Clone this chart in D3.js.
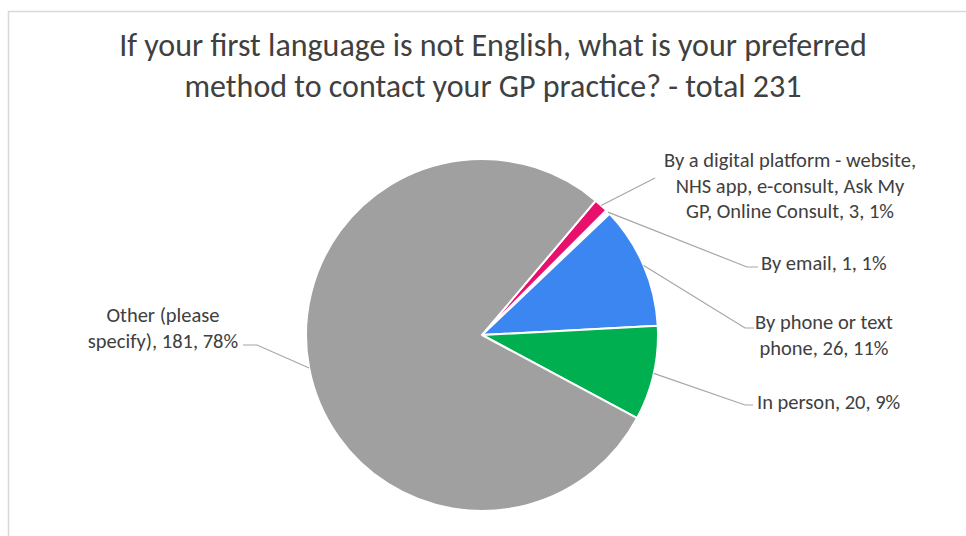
<!DOCTYPE html>
<html>
<head>
<meta charset="utf-8">
<script src="https://cdn.jsdelivr.net/npm/d3@7"></script>
<style>
  html, body { margin: 0; padding: 0; background: #fff; }
  svg { display: block; }
  text { font-family: Carlito, Calibri, Lato, "Open Sans", sans-serif; }
</style>
</head>
<body>
<svg id="chart" width="966" height="536"></svg>
<script>
// ---- Data ----
const categories = [
  "By a digital platform - website, NHS app, e-consult, Ask My GP, Online Consult",
  "By email",
  "By phone or text phone",
  "In person",
  "Other (please specify)"
];
const values = [3, 1, 26, 20, 181];
const percentLabels = ["1%", "1%", "11%", "9%", "78%"];
const colors = ["#e8106c", "#ffffff", "#3b86f0", "#00b050", "#a0a0a0"];
const titleLines = [
  "If your first language is not English, what is your preferred",
  "method to contact your GP practice? - total 231"
];

// label text broken into lines (as displayed)
const labelLines = [
  ["By a digital platform - website,", "NHS app, e-consult, Ask My", "GP, Online Consult, 3, 1%"],
  ["By email, 1, 1%"],
  ["By phone or text", "phone, 26, 11%"],
  ["In person, 20, 9%"],
  ["Other (please", "specify), 181, 78%"]
];

// ---- Layout (positions only) ----
const W = 966, H = 536;
const cx = 482, cy = 335, R = 176;
const startAngle = 40.25 * Math.PI / 180;
const labelLayout = [
  { x: 790, y: 167, anchor: "middle", pts: [[655, 178]] },
  { x: 761, y: 270, anchor: "start",  pts: [[747, 267], [758, 267]] },
  { x: 824, y: 329, anchor: "middle", pts: [[745, 328], [754, 328]] },
  { x: 757, y: 409, anchor: "start",  pts: [[745, 405], [753, 405]] },
  { x: 163, y: 322, anchor: "middle", pts: [[257, 345], [243, 345]] }
];
const lineH = 25.5;

const svg = d3.select("#chart");

// chart frame
svg.append("path")
  .attr("d", `M8.5,${H} L8.5,11.5 L${W},11.5`)
  .attr("fill", "none").attr("stroke", "#d9d9d9").attr("stroke-width", 1.5);

// title
svg.append("g").selectAll("text").data(titleLines).join("text")
  .attr("x", 493).attr("y", (d, i) => 56 + i * 41)
  .attr("text-anchor", "middle")
  .attr("font-size", 32)
  .attr("fill", "#404040")
  .text(d => d);

// pie
const data = categories.map((c, i) => ({ cat: c, value: values[i], i }));
const pie = d3.pie().value(d => d.value).sort(null)
  .startAngle(startAngle).endAngle(startAngle + 2 * Math.PI);
const arcs = pie(data);
const arc = d3.arc().innerRadius(0).outerRadius(R);
const edgeArc = d3.arc().innerRadius(R).outerRadius(R);

const g = svg.append("g").attr("transform", `translate(${cx},${cy})`);
g.selectAll("path").data(arcs).join("path")
  .attr("d", arc)
  .attr("fill", d => colors[d.data.i])
  .attr("stroke", "#ffffff")
  .attr("stroke-width", 2)
  .attr("stroke-linejoin", "round");

// leader lines
svg.append("g").selectAll("polyline").data(arcs).join("polyline")
  .attr("points", d => {
    const [ex, ey] = edgeArc.centroid(d);
    const pts = [[cx + ex, cy + ey]].concat(labelLayout[d.data.i].pts);
    return pts.map(p => p.join(",")).join(" ");
  })
  .attr("fill", "none")
  .attr("stroke", "#a6a6a6")
  .attr("stroke-width", 1.2);

// labels
const lg = svg.append("g");
arcs.forEach(d => {
  const L = labelLayout[d.data.i];
  lg.append("text")
    .attr("text-anchor", L.anchor)
    .attr("font-size", 20.5)
    .attr("fill", "#404040")
    .selectAll("tspan").data(labelLines[d.data.i]).join("tspan")
      .attr("x", L.x)
      .attr("y", (t, j) => L.y + j * lineH)
      .text(t => t);
});
</script>
</body>
</html>
